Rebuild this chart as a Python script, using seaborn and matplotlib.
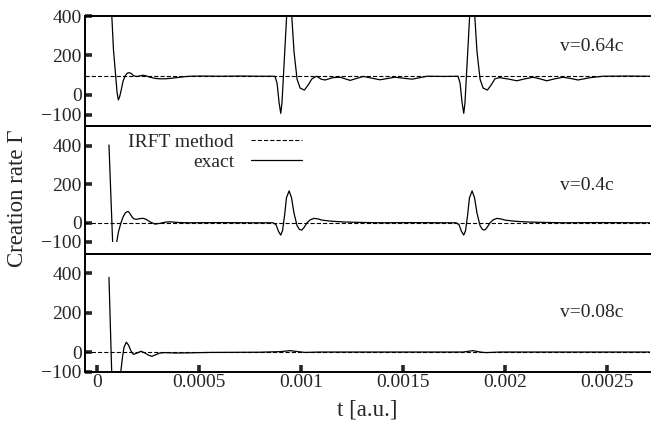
import numpy as np
import pandas as pd
import matplotlib
matplotlib.use("Agg")
import matplotlib.pyplot as plt
import seaborn as sns
from matplotlib.patches import Rectangle

# ---------------- data (t in units of 1e-4 a.u.) ----------------
T_UNIT = 1e-4

panel_labels = ["v=0.64c", "v=0.4c", "v=0.08c"]
irft_levels = [95, 0, 0]
irft_t = [-0.56, 27.12]

exact_t_064 = [0.60, 0.74, 0.82, 0.93, 1.00, 1.06, 1.12, 1.19, 1.29, 1.39, 1.49, 1.58,
               1.68, 1.78, 1.88, 1.98, 2.12, 2.27, 2.42, 2.61, 2.86, 3.10, 3.35, 3.59,
               3.84, 4.08, 4.33, 4.57, 5.06, 6.04, 7.03, 8.00, 8.59, 8.74, 8.84, 8.94,
               9.02, 9.08, 9.18, 9.31, 9.43, 9.56, 9.67, 9.82, 9.97, 10.18, 10.36, 10.55,
               10.78, 11.00, 11.19, 11.39, 11.58, 11.93, 12.42, 13.07, 13.88, 14.62, 15.46,
               16.19, 17.07, 17.71, 17.81, 17.91, 17.99, 18.05, 18.15, 18.28, 18.40, 18.53,
               18.64, 18.79, 18.94, 19.15, 19.33, 19.52, 19.75, 19.85, 20.22, 20.59, 21.00,
               21.39, 21.72, 22.06, 22.46, 22.86, 23.22, 23.59, 24.20, 24.82, 26.00, 27.10]
exact_v_064 = [620, 400, 230, 96, 10, -25, -10, 20, 70, 96, 110, 113,
               110, 100, 95, 94, 97, 100, 97, 90, 84, 82, 82, 84,
               87, 90, 93, 95, 96, 95, 96, 95, 95, 94, 60, -40,
               -93, -40, 150, 400, 540, 400, 220, 80, 35, 25, 50, 82,
               95, 80, 76, 82, 88, 90, 74, 94, 77, 90, 80,
               95, 94, 95, 60, -40, -93, -40, 150, 400, 540, 400,
               220, 80, 35, 25, 50, 82, 88, 86, 80, 72, 82,
               90, 82, 72, 82, 90, 84, 76, 88, 95, 96, 95]

exact_t_04 = [0.60, 0.85, 0.92, 0.98, 1.07, 1.19, 1.29, 1.39, 1.49, 1.55, 1.63, 1.73,
              1.83, 1.96, 2.12, 2.28, 2.42, 2.61, 2.86, 3.10, 3.35, 3.59, 3.84, 4.08,
              4.57, 6.00, 7.50, 8.64, 8.79, 8.91, 9.02, 9.11, 9.21, 9.30, 9.43, 9.55,
              9.67, 9.82, 9.94, 10.05, 10.16, 10.31, 10.46, 10.65, 10.85, 11.04, 11.34,
              11.68, 12.17, 12.91, 13.89, 15.50, 17.00, 17.61, 17.76, 17.88, 17.99, 18.08,
              18.18, 18.27, 18.40, 18.52, 18.64, 18.79, 18.91, 19.02, 19.13, 19.28, 19.43,
              19.62, 19.82, 20.01, 20.31, 20.65, 21.14, 21.88, 22.86, 24.50, 27.10]
exact_v_04 = [405, -300, -190, -100, -45, 0, 30, 50, 58, 58, 48, 30,
              20, 18, 22, 23, 18, 5, -7, -3, 3, 5, 3, 1,
              0, 1, 0, 0, -10, -45, -64, -40, 40, 130, 166, 130,
              50, -15, -35, -38, -25, 0, 15, 23, 20, 14, 10,
              7, 4, 2, 0, 1, 0, 0, -10, -45, -64, -40,
              40, 130, 166, 130, 50, -15, -35, -38, -25, 0, 15,
              23, 20, 14, 10, 7, 4, 2, 0, 1, 0]

exact_t_008 = [0.60, 0.85, 1.02, 1.18, 1.27, 1.34, 1.45, 1.56, 1.68, 1.80, 1.98, 2.17,
               2.37, 2.52, 2.70, 2.86, 3.10, 3.35, 3.84, 4.57, 5.55, 8.00, 8.99, 9.48,
               9.87, 10.21, 10.95, 17.96, 18.30, 18.45, 18.79, 19.08, 19.77, 27.10]
exact_v_008 = [380, -520, -300, -100, -20, 25, 50, 35, 5, -12, -5, 4,
               -5, -15, -22, -15, -5, -3, -5, -4, -2, -1, 2, 7,
               2, -2, 0, 0, 5, 7, 0, -3, 0, 0]

exact_t = [exact_t_064, exact_t_04, exact_t_008]
exact_v = [exact_v_064, exact_v_04, exact_v_008]

ylims = [(-157, 400), (-160, 504), (-100, 501)]
yticks = [-100, 0, 200, 400]
xticks = [0, 0.0005, 0.001, 0.0015, 0.002, 0.0025]
xtick_labels = ["0", "0.0005", "0.001", "0.0015", "0.002", "0.0025"]
xlim = (-0.56 * T_UNIT, 27.12 * T_UNIT)

# ---------------- style ----------------
sns.set_style("ticks")
plt.rcParams["font.family"] = ["Liberation Serif", "DejaVu Serif"]
plt.rcParams["lines.scale_dashes"] = False
plt.rcParams["axes.unicode_minus"] = True

W, H = 653, 429
fig = plt.figure(figsize=(W / 100, H / 100), dpi=100)

left = 85.3 / W
width = (650 - 85.3) / W
# panel pixel extents (top, bottom)
extents = [(16, 126), (126, 253.5), (253.5, 371.7)]
axes = []
for (ytop, ybot) in extents:
    ax = fig.add_axes([left, 1 - ybot / H, width, (ybot - ytop) / H])
    axes.append(ax)

dash = (0, (3.0, 1.5))
for i, ax in enumerate(axes):
    df_irft = pd.DataFrame({"t": np.array(irft_t) * T_UNIT,
                            "rate": [irft_levels[i]] * len(irft_t)})
    df_exact = pd.DataFrame({"t": np.array(exact_t[i]) * T_UNIT,
                             "rate": exact_v[i]})
    sns.lineplot(data=df_irft, x="t", y="rate", ax=ax, color="black",
                 linewidth=0.8, linestyle=dash, estimator=None,
                 label="IRFT method" if i == 1 else None, legend=False)
    sns.lineplot(data=df_exact, x="t", y="rate", ax=ax, color="black",
                 linewidth=0.9, estimator=None, sort=False,
                 label="exact" if i == 1 else None, legend=False)
    ax.set_xlim(*xlim)
    ax.set_ylim(*ylims[i])
    ytop = min(ylims[i][1], 460)
    clip = Rectangle((xlim[0], -100), xlim[1] - xlim[0], ytop + 100,
                     transform=ax.transData)
    for ln in ax.lines:
        ln.set_clip_path(clip)
    ax.set_xlabel("")
    ax.set_ylabel("")
    ax.set_yticks(yticks)
    ax.tick_params(axis="y", direction="in", length=4.8, width=2.6, pad=2.6,
                   labelsize=14, right=False)
    ax.set_xticks(xticks)
    if i < 2:
        ax.tick_params(axis="x", bottom=False, labelbottom=False, top=False)
    else:
        ax.set_xticklabels(xtick_labels)
        ax.tick_params(axis="x", direction="in", length=4.8, width=2.6, pad=1.5,
                       labelsize=14, top=False)
    ax.spines["right"].set_visible(False)
    for s in ["left", "top", "bottom"]:
        ax.spines[s].set_linewidth(1.4)
        ax.spines[s].set_color("black")
    ax.patch.set_alpha(0)

label_pos = [0.727, 0.537, 0.505]
for i, ax in enumerate(axes):
    ax.text((560 - 85.3) / (650 - 85.3), label_pos[i], panel_labels[i],
            transform=ax.transAxes, ha="left", va="center", fontsize=14)

axes[1].legend(loc="upper right", bbox_to_anchor=(0.384, 0.94), frameon=False,
               markerfirst=False, handlelength=2.65, handletextpad=0.85,
               labelspacing=0.1, borderpad=0, borderaxespad=0, fontsize=14)

fig.text(18 / W, 1 - 198 / H, "Creation rate Γ", rotation=90, ha="center",
         va="center", fontsize=16.5)
fig.text(367 / W, 1 - 410 / H, "t [a.u.]", ha="center", va="center", fontsize=16.5)

fig.savefig("out.png", dpi=100)
